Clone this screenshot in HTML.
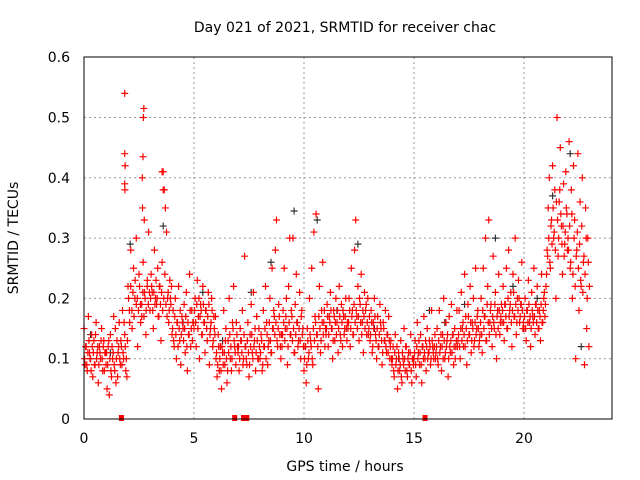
<!DOCTYPE html>
<html><head><meta charset="utf-8"><style>
body{margin:0;background:#fff;}
svg{display:block;font-family:"DejaVu Sans","Liberation Sans",sans-serif;}
</style></head><body>
<svg id="c" width="640" height="480">
<text x="345" y="32" font-size="14" text-anchor="middle">Day 021 of 2021, SRMTID for receiver chac</text>
<text x="345" y="471" font-size="14" text-anchor="middle">GPS time / hours</text>
<text x="18" y="238" font-size="14" text-anchor="middle" transform="rotate(-90 18 238)">SRMTID / TECUs</text>
<g id="grid"></g>
<g id="ticks"></g>
<g id="black"></g>
<g id="red"></g>
<rect x="84" y="57" width="528" height="362" fill="none" stroke="#000" stroke-width="1"/>
</svg>
<script>
const xTicks=[0,5,10,15,20];
const yTicks=[0,0.1,0.2,0.3,0.4,0.5,0.6];
const yTickLabels=["0","0.1","0.2","0.3","0.4","0.5","0.6"];
const binHours=[0,1,2,3,4,5,6,7,8,9,10,11,12,13,14,15,16,17,18,19,20,21,22];
const binValues=[
[.15,.09,.12,.08,.17,.11,.10,.14,.07,.13,.09,.16,.11,.06,.12,.10,.15,.08,.13,.11],
[.09,.05,.12,.04,.14,.07,.10,.17,.08,.06,.13,.11,.16,.09,.12,.18,.10,.14,.08,.07],
[.22,.18,.28,.15,.25,.20,.30,.12,.24,.19,.17,.26,.21,.14,.23,.31],
[.18,.24,.21,.15,.28,.20,.19,.25,.17,.22,.13,.26,.41,.38,.35,.31,.20,.16,.23,.19],
[.14,.18,.12,.20,.10,.16,.22,.13,.09,.17,.15,.19,.11,.21,.08,.14,.24,.12,.18,.16],
[.15,.20,.12,.23,.17,.10,.19,.14,.22,.16,.11,.18,.13,.21,.09,.15,.20,.12,.17,.14],
[.10,.07,.14,.08,.12,.05,.11,.18,.09,.15,.06,.13,.20,.10,.08,.16,.22,.12,.09,.14],
[.11,.08,.15,.13,.18,.10,.27,.12,.09,.16,.07,.14,.19,.11,.21,.13,.08,.17,.10,.15],
[.10,.14,.08,.18,.12,.22,.16,.09,.13,.20,.11,.25,.15,.17,.28,.33,.12,.19,.14,.10],
[.12,.18,.25,.15,.20,.09,.22,.30,.14,.17,.30,.11,.19,.24,.16,.13,.21,.10,.18,.15],
[.08,.12,.06,.15,.10,.20,.13,.25,.09,.31,.17,.34,.14,.05,.22,.11,.18,.26,.16,.12],
[.14,.19,.12,.17,.21,.15,.10,.18,.13,.20,.16,.11,.22,.14,.19,.12,.17,.15,.20,.13],
[.15,.20,.12,.25,.18,.14,.28,.33,.17,.22,.13,.19,.24,.16,.11,.21,.18,.14,.20,.15],
[.13,.18,.11,.16,.20,.14,.10,.17,.12,.19,.15,.09,.16,.13,.18,.11,.14,.17,.10,.13],
[.09,.12,.07,.14,.10,.05,.11,.08,.13,.06,.10,.15,.08,.12,.07,.11,.09,.14,.06,.10],
[.10,.13,.07,.16,.11,.09,.14,.06,.12,.17,.10,.08,.15,.11,.13,.09,.18,.12,.10,.14],
[.11,.15,.09,.18,.12,.08,.14,.20,.10,.16,.13,.07,.17,.11,.19,.14,.09,.15,.12,.18],
[.13,.18,.10,.21,.15,.12,.24,.17,.09,.19,.14,.22,.11,.16,.20,.13,.25,.15,.18,.12],
[.14,.20,.11,.25,.17,.30,.13,.22,.33,.16,.19,.12,.27,.15,.21,.10,.18,.24,.14,.17],
[.16,.22,.13,.19,.25,.15,.28,.18,.21,.12,.24,.17,.30,.14,.20,.23,.16,.19,.26,.15],
[.15,.20,.13,.18,.23,.16,.12,.21,.17,.25,.14,.19,.22,.15,.18,.13,.24,.16,.20,.17],
[.22,.28,.35,.40,.25,.33,.42,.30,.38,.20,.50,.27,.36,.45,.32,.24,.39,.29,.41,.34],
[.30,.46,.25,.38,.20,.42,.33,.10,.28,.44,.18,.36,.22,.40,.26,.09,.35,.15,.30,.12]];
const binValues2=[
[.10,.12,.09,.11,.13,.10,.08,.12,.11,.09,.14,.10,.12,.09,.11,.13,.10,.12,.08,.11],
[.11,.09,.13,.10,.08,.12,.11,.09,.15,.10,.07,.12,.10,.13,.09,.11,.16,.12,.10,.13],
[.20,.16,.22,.18,.21,.17,.23,.19,.20,.18,.22,.16,.19,.21,.17,.20,.18,.22,.19,.21],
[.20,.22,.18,.21,.19,.23,.20,.17,.22,.19,.21,.18,.20,.24,.19,.17,.21,.18,.20,.22],
[.15,.13,.17,.14,.16,.12,.15,.18,.14,.16,.13,.15,.17,.12,.16,.14,.18,.15,.13,.16],
[.18,.16,.19,.15,.20,.17,.18,.14,.19,.16,.18,.15,.17,.19,.14,.16,.18,.13,.15,.17],
[.11,.09,.12,.10,.08,.12,.09,.11,.13,.10,.08,.11,.14,.12,.10,.15,.13,.11,.16,.12],
[.12,.10,.13,.11,.09,.14,.12,.10,.13,.11,.09,.12,.14,.10,.12,.15,.11,.13,.10,.12],
[.11,.13,.09,.12,.15,.10,.14,.12,.16,.13,.11,.15,.18,.14,.16,.13,.15,.17,.12,.14],
[.14,.16,.13,.17,.15,.12,.16,.14,.18,.13,.15,.11,.14,.16,.12,.15,.13,.17,.14,.12],
[.10,.12,.09,.13,.11,.14,.12,.10,.15,.13,.16,.14,.12,.17,.15,.13,.16,.14,.18,.15],
[.15,.17,.14,.16,.18,.15,.13,.17,.16,.14,.18,.15,.17,.13,.16,.18,.14,.17,.15,.16],
[.16,.18,.15,.17,.14,.19,.16,.18,.15,.17,.20,.16,.14,.18,.17,.15,.19,.16,.14,.17],
[.14,.16,.12,.15,.17,.13,.15,.12,.14,.16,.13,.11,.15,.13,.12,.14,.11,.13,.12,.10],
[.10,.08,.11,.09,.12,.08,.10,.09,.07,.11,.09,.10,.12,.08,.10,.09,.11,.08,.10,.09],
[.11,.09,.12,.10,.13,.11,.09,.12,.10,.11,.13,.12,.10,.11,.12,.10,.13,.11,.12,.10],
[.12,.10,.13,.11,.14,.12,.10,.13,.11,.12,.14,.10,.12,.13,.11,.14,.12,.10,.13,.12],
[.14,.12,.15,.13,.16,.14,.12,.15,.13,.17,.14,.16,.13,.15,.12,.16,.14,.17,.15,.13],
[.16,.14,.18,.15,.17,.13,.19,.16,.14,.18,.15,.17,.16,.19,.14,.17,.15,.18,.16,.19],
[.18,.16,.19,.17,.15,.20,.17,.19,.16,.18,.21,.17,.19,.16,.18,.20,.17,.19,.18,.16],
[.17,.15,.18,.16,.19,.17,.15,.18,.16,.17,.19,.16,.18,.15,.17,.19,.16,.18,.21,.19],
[.24,.27,.30,.26,.32,.29,.35,.31,.28,.36,.33,.30,.38,.34,.29,.32,.27,.31,.35,.28],
[.28,.32,.26,.34,.24,.30,.22,.27,.31,.25,.29,.23,.32,.21,.27,.24,.30,.20,.26,.22]];
const spikeT=[1.85,1.85,1.87,1.85,1.86,2.7,2.72,2.68,2.65,2.66,2.74,3.55,3.6];
const spikeV=[.54,.44,.42,.39,.38,.50,.515,.435,.40,.35,.33,.41,.38];
const blackT=[0.3,1.2,2.1,3.6,4.5,5.4,6.3,7.6,8.5,9.55,10.6,11.5,12.45,13.2,14.3,15.7,16.4,17.3,18.7,19.5,20.6,21.3,22.1,22.6];
const blackV=[.14,.11,.29,.32,.16,.21,.13,.21,.26,.345,.33,.18,.29,.15,.10,.18,.16,.19,.30,.22,.20,.37,.44,.12];
const zeroT=[1.7,6.85,7.25,7.4,15.5];

const X=h=>84+h*22;
const Y=v=>419-v*603;
const NS="http://www.w3.org/2000/svg";
function mk(tag,attrs,parent){const e=document.createElementNS(NS,tag);for(const k in attrs)e.setAttribute(k,attrs[k]);parent.appendChild(e);return e;}
const grid=document.getElementById('grid'),ticks=document.getElementById('ticks');
xTicks.forEach(t=>{
 if(t>0){const g=mk('line',{x1:X(t),x2:X(t),y1:57,y2:419,stroke:'#999','stroke-dasharray':'2,3'},grid);
 
 }
 const l=mk('text',{x:X(t),y:443,'font-size':14,'text-anchor':'middle'},ticks);l.textContent=t;
 
 
});
yTicks.forEach((t,i)=>{
 if(t>0&&t<0.6){const g=mk('line',{x1:84,x2:612,y1:Y(t),y2:Y(t),stroke:'#999','stroke-dasharray':'2,3'},grid);
 
 }
 const l=mk('text',{x:70,y:Y(t)+5,'font-size':14,'text-anchor':'end'},ticks);l.textContent=yTickLabels[i];
 
 
});
function cross(t,v,col,parent){
 const x=X(t),y=Y(v);
 const p=mk('path',{d:`M${x-3.5},${y}h7M${x},${y-3.5}v7`,stroke:col,'stroke-width':1.2,fill:'none'},parent);
 
 
}
const red=document.getElementById('red'),black=document.getElementById('black');
blackT.forEach((t,i)=>cross(t,blackV[i],'#333',black));
binHours.forEach((h,b)=>{
 const vals=binValues[b];
 vals.forEach((v,k)=>cross(h+k/vals.length,v,'#f00',red));
 const vals2=binValues2[b];
 vals2.forEach((v,k)=>cross(h+(k+0.5)/vals2.length,v,'#f00',red));
});
spikeT.forEach((t,i)=>cross(t,spikeV[i],'#f00',red));
zeroT.forEach(t=>{
 const r=mk('rect',{x:X(t)-2.5,y:415,width:5,height:6,fill:'#f00'},red);
 
 
});
</script>
</body></html>
